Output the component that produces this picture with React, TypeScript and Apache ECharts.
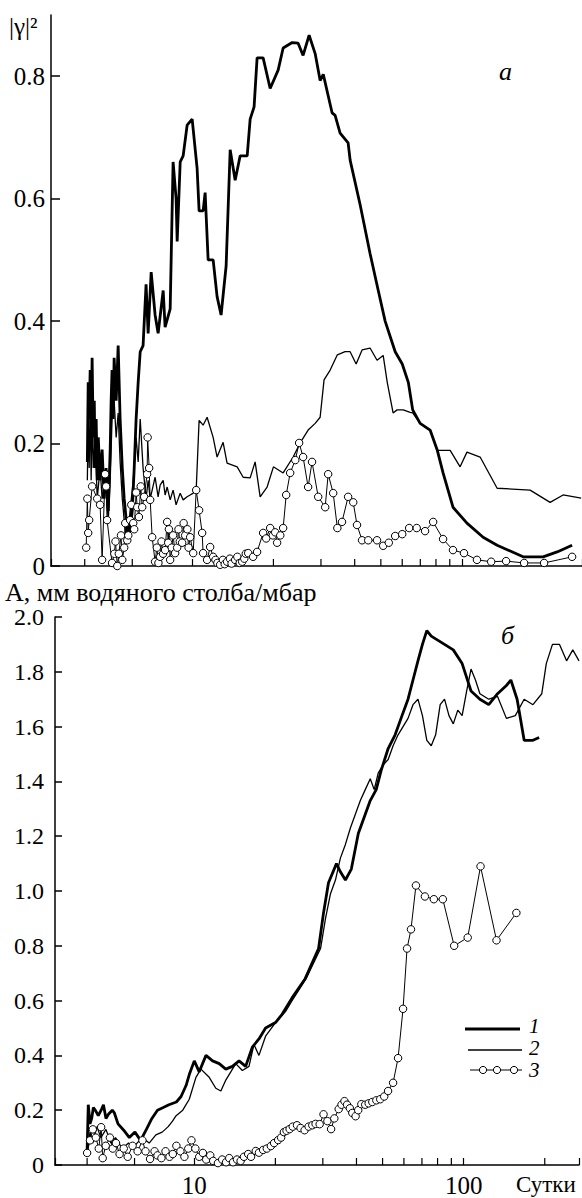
import React, { useEffect, useRef } from 'react';
import * as echarts from 'echarts';

// ---- Panel a: squared coherence |γ|² vs period (days) ----
const TOP_1: [number, number][] = [
  [4.09,0.17],[4.12,0.30],[4.155,0.24],[4.19,0.32],[4.225,0.22],[4.26,0.34],[4.30,0.21],[4.34,0.27],[4.37,0.16],[4.41,0.24],
  [4.45,0.14],[4.49,0.21],[4.56,0.14],[4.64,0.19],[4.72,0.11],[4.80,0.16],[4.89,0.09],[4.97,0.19],[5.01,0.27],[5.05,0.32],
  [5.10,0.24],[5.14,0.34],[5.23,0.27],[5.32,0.36],[5.41,0.24],[5.51,0.16],[5.60,0.11],[5.70,0.075],[5.80,0.042],[5.89,0.059],
  [6.00,0.09],[6.10,0.16],[6.20,0.24],[6.31,0.30],[6.42,0.35],[6.58,0.36],[6.75,0.46],[6.87,0.38],[7.05,0.48],[7.29,0.41],
  [7.48,0.38],[7.81,0.45],[7.94,0.39],[8.29,0.42],[8.50,0.66],[8.72,0.60],[8.80,0.53],[9.03,0.66],[9.26,0.67],[9.58,0.72],
  [10.0,0.73],[10.43,0.65],[10.61,0.58],[10.98,0.58],[11.17,0.61],[11.46,0.50],[11.96,0.50],[12.37,0.44],[12.80,0.41],[13.36,0.49],
  [13.83,0.68],[14.43,0.63],[15.06,0.67],[15.99,0.67],[16.40,0.73],[16.96,0.75],[17.40,0.83],[18.32,0.83],[19.45,0.78],[20.82,0.81],
  [21.73,0.846],[23.47,0.855],[24.69,0.854],[25.76,0.834],[27.12,0.867],[28.55,0.837],[29.79,0.793],[30.6,0.803],[33.0,0.74],[33.85,0.736],
  [35.32,0.707],[37.82,0.691],[38.47,0.663],[41.9,0.59],[45.62,0.51],[48.9,0.45],[51.86,0.40],[56.5,0.35],[60.0,0.33],[63.2,0.30],
  [65.6,0.255],[69.9,0.233],[76.1,0.222],[80.8,0.19],[85.0,0.152],[92.5,0.096],[104.2,0.07],[119.6,0.047],[134.8,0.034],[168.2,0.015],
  [199.5,0.015],[224.9,0.023],[255.5,0.034]
];
const TOP_2: [number, number][] = [
  [4.09,0.14],[4.12,0.24],[4.155,0.16],[4.19,0.27],[4.225,0.14],[4.26,0.25],[4.30,0.16],[4.37,0.21],[4.45,0.11],[4.56,0.16],
  [4.64,0.11],[4.76,0.14],[4.89,0.075],[4.97,0.14],[5.05,0.24],[5.14,0.27],[5.23,0.21],[5.32,0.25],[5.41,0.17],[5.51,0.11],
  [5.60,0.075],[5.70,0.042],[5.80,0.059],[5.89,0.09],[6.05,0.14],[6.20,0.21],[6.31,0.17],[6.42,0.24],[6.58,0.16],[6.75,0.11],
  [6.87,0.14],[6.99,0.11],[7.11,0.124],[7.29,0.145],[7.48,0.113],[7.61,0.132],[7.81,0.14],[7.94,0.116],[8.08,0.129],[8.29,0.108],
  [8.50,0.124],[8.72,0.10],[9.03,0.119],[9.26,0.108],[9.58,0.113],[9.83,0.116],[10.09,0.119],[10.35,0.124],[10.61,0.238],[10.98,0.23],
  [11.36,0.243],[11.96,0.21],[12.37,0.178],[13.02,0.202],[13.47,0.168],[14.68,0.162],[15.45,0.145],[16.40,0.144],[17.11,0.17],[17.86,0.113],
  [18.95,0.129],[20.0,0.162],[21.73,0.152],[23.67,0.178],[25.12,0.201],[26.89,0.222],[28.55,0.233],[29.79,0.243],[30.8,0.304],[32.45,0.32],
  [34.5,0.345],[36.86,0.35],[38.47,0.35],[40.5,0.33],[42.6,0.353],[45.6,0.356],[48.4,0.336],[51.0,0.344],[52.8,0.30],[55.5,0.25],
  [57.4,0.255],[60.5,0.255],[64.2,0.251],[65.6,0.25],[69.9,0.233],[76.1,0.222],[80.8,0.189],[90.3,0.189],[98.3,0.162],[104.2,0.186],
  [116.6,0.178],[134.8,0.127],[178.6,0.124],[211.8,0.104],[236.6,0.116],[276,0.111]
];
const TOP_3: [number, number][] = [
  [4.05,0.03],[4.09,0.11],[4.12,0.054],[4.155,0.075],[4.26,0.13],[4.45,0.11],[4.56,0.10],[4.64,0.01],[4.76,0.15],[4.80,0.13],
  [4.84,0.075],[5.05,0.005],[5.15,0.02],[5.2,0.04],[5.28,0.0],[5.35,0.02],[5.45,0.05],[5.51,0.01],[5.6,0.03],[5.65,0.07],
  [5.75,0.042],[5.8,0.05],[5.89,0.075],[5.95,0.10],[6.05,0.07],[6.1,0.06],[6.2,0.12],[6.26,0.096],[6.35,0.08],[6.45,0.13],
  [6.53,0.096],[6.64,0.113],[6.81,0.15],[6.84,0.21],[6.93,0.16],[6.99,0.108],[7.11,0.047],[7.29,0.007],[7.4,0.03],[7.5,0.005],
  [7.61,0.015],[7.7,0.04],[7.8,0.02],[7.94,0.026],[8.08,0.072],[8.15,0.038],[8.2,0.06],[8.29,0.01],[8.4,0.03],[8.5,0.05],
  [8.65,0.021],[8.8,0.03],[8.9,0.06],[9.0,0.04],[9.18,0.038],[9.3,0.07],[9.42,0.05],[9.6,0.06],[9.7,0.03],[9.83,0.047],
  [10.09,0.021],[10.35,0.124],[10.61,0.091],[10.89,0.054],[10.98,0.021],[11.36,0.01],[11.66,0.031],[11.96,0.015],[12.2,0.01],[12.4,0.005],
  [12.70,0.002],[13.0,0.01],[13.2,0.003],[13.47,0.007],[13.8,0.012],[14.0,0.004],[14.43,0.01],[14.7,0.015],[15.0,0.005],[15.32,0.007],
  [15.6,0.012],[15.8,0.02],[16.13,0.021],[16.82,0.015],[17.40,0.023],[18.32,0.054],[18.8,0.045],[19.45,0.062],[19.9,0.05],[20.3,0.055],
  [20.64,0.038],[21.2,0.05],[21.73,0.062],[22.3,0.116],[23.07,0.152],[24.1,0.173],[24.9,0.201],[25.76,0.178],[26.89,0.129],[27.8,0.17],
  [29.3,0.113],[31.1,0.096],[31.9,0.15],[33.3,0.119],[34.5,0.062],[35.9,0.072],[37.82,0.113],[39.5,0.104],[40.8,0.067],[42.6,0.042],
  [44.9,0.042],[48.4,0.042],[51.0,0.033],[53.5,0.038],[56.5,0.049],[60.0,0.052],[63.66,0.062],[67.9,0.062],[72.9,0.057],[78.1,0.072],
  [85.0,0.044],[92.5,0.026],[101.6,0.021],[113.5,0.01],[128.1,0.007],[145.5,0.008],[169.7,0.005],[201.2,0.005],[255.5,0.015]
];

// ---- Panel б: amplitude A (mm water / mbar) vs period (days) ----
const BOT_1: [number, number][] = [
  [4.0,0.05],[4.04,0.22],[4.1,0.15],[4.16,0.17],[4.22,0.21],[4.29,0.20],[4.4,0.18],[4.51,0.20],[4.6,0.22],[4.7,0.17],
  [4.80,0.185],[4.96,0.20],[5.05,0.19],[5.21,0.15],[5.47,0.127],[5.74,0.10],[6.02,0.12],[6.32,0.09],[6.64,0.13],[6.96,0.17],
  [7.30,0.20],[7.67,0.21],[8.05,0.22],[8.58,0.23],[8.93,0.25],[9.32,0.29],[9.58,0.33],[10.0,0.38],[10.43,0.34],[11.05,0.40],
  [11.69,0.38],[12.37,0.37],[13.09,0.35],[13.85,0.36],[14.66,0.38],[15.51,0.36],[16.42,0.43],[17.38,0.46],[18.39,0.50],[20.02,0.52],
  [21.18,0.55],[23.06,0.61],[25.8,0.68],[28.93,0.79],[30.18,0.92],[31.49,1.03],[33.71,1.10],[34.86,1.07],[36.39,1.04],[38.28,1.08],
  [40.63,1.21],[43.12,1.28],[45.0,1.33],[47.35,1.37],[49.4,1.44],[52.44,1.52],[55.66,1.57],[59.04,1.64],[62.15,1.70],[64.84,1.77],
  [67.65,1.84],[70.3,1.90],[72.97,1.95],[75.8,1.93],[78.7,1.92],[84.9,1.90],[91.5,1.88],[98.7,1.83],[106.5,1.73],[114.9,1.70],
  [123.9,1.68],[133.6,1.72],[144.1,1.75],[149.7,1.77],[157.9,1.70],[167.7,1.55],[180.8,1.55],[190.6,1.56]
];
const BOT_2: [number, number][] = [
  [4.0,0.04],[4.1,0.12],[4.2,0.08],[4.35,0.14],[4.5,0.10],[4.7,0.13],[4.9,0.08],[5.1,0.10],[5.4,0.06],[5.7,0.08],
  [6.0,0.07],[6.4,0.10],[6.8,0.08],[7.2,0.11],[7.6,0.12],[8.0,0.14],[8.3,0.16],[8.56,0.18],[9.06,0.20],[9.58,0.24],
  [10.14,0.32],[10.58,0.35],[11.36,0.32],[12.02,0.28],[12.55,0.27],[13.09,0.31],[13.66,0.34],[14.25,0.37],[15.08,0.345],[15.96,0.36],
  [16.65,0.44],[17.38,0.40],[18.39,0.47],[20.02,0.52],[21.80,0.56],[23.06,0.60],[26.0,0.68],[29.42,0.79],[30.70,0.90],[32.03,0.99],
  [33.42,1.04],[34.86,1.12],[36.39,1.17],[37.97,1.23],[39.62,1.28],[41.34,1.33],[43.12,1.37],[45.0,1.41],[46.55,1.37],[48.16,1.43],
  [50.25,1.46],[52.44,1.48],[54.70,1.53],[57.08,1.57],[59.56,1.60],[62.15,1.63],[64.84,1.68],[67.65,1.70],[70.3,1.64],[72.97,1.55],
  [75.8,1.53],[78.7,1.57],[81.8,1.68],[84.9,1.70],[88.2,1.64],[91.5,1.61],[95.1,1.66],[98.7,1.64],[102.6,1.73],[106.5,1.81],
  [110.6,1.77],[114.9,1.72],[123.9,1.70],[133.6,1.71],[144.1,1.63],[155.5,1.64],[167.7,1.70],[180.8,1.68],[195.0,1.72],[202.6,1.83],
  [213.6,1.90],[226.9,1.90],[241.0,1.84],[254.2,1.88],[268,1.84]
];
const BOT_3: [number, number][] = [
  [4.0,0.044],[4.10,0.09],[4.20,0.13],[4.31,0.10],[4.42,0.06],[4.51,0.138],[4.57,0.025],[4.69,0.07],[4.86,0.10],[4.98,0.06],
  [5.12,0.08],[5.28,0.04],[5.47,0.06],[5.66,0.03],[5.90,0.07],[6.16,0.05],[6.42,0.09],[6.59,0.05],[6.85,0.022],[7.12,0.05],
  [7.30,0.035],[7.55,0.025],[7.82,0.05],[8.09,0.03],[8.32,0.04],[8.58,0.07],[8.88,0.05],[9.19,0.03],[9.50,0.06],[9.76,0.09],
  [10.09,0.06],[10.43,0.03],[10.76,0.044],[11.07,0.02],[11.46,0.035],[11.75,0.015],[12.24,0.007],[12.69,0.02],[13.12,0.01],[13.48,0.025],
  [13.93,0.01],[14.41,0.02],[14.86,0.015],[15.29,0.03],[15.85,0.04],[16.24,0.03],[16.91,0.051],[17.38,0.045],[18.01,0.055],[18.59,0.06],
  [19.24,0.069],[19.78,0.08],[20.48,0.091],[21.0,0.10],[21.51,0.12],[22.0,0.125],[22.59,0.131],[23.2,0.14],[24.06,0.145],[24.8,0.135],
  [25.67,0.127],[26.57,0.14],[27.42,0.145],[28.2,0.15],[29.2,0.149],[30.18,0.185],[31.2,0.16],[32.2,0.131],[33.1,0.17],[34.36,0.204],
  [35.2,0.22],[36.1,0.233],[36.9,0.22],[37.8,0.207],[38.6,0.19],[39.7,0.178],[40.6,0.20],[41.7,0.222],[43.1,0.22],[44.4,0.225],
  [45.8,0.23],[47.4,0.236],[49.0,0.24],[50.7,0.25],[52.4,0.27],[54.7,0.30],[57.08,0.39],[59.56,0.57],[61.63,0.79],[63.74,0.86],
  [66.5,1.02],[71.79,0.98],[77.5,0.97],[83.67,0.97],[92.2,0.80],[103.5,0.83],[115.5,1.09],[132.4,0.82],[156.9,0.92]
];

const X_MINOR_TICKS = [4, 6, 20, 30, 40, 50, 60, 70, 80, 90, 200];
const X_LABELS = [10, 100];
const TOP_Y_TICKS = [0, 0.2, 0.4, 0.6, 0.8];
const BOT_Y_TICKS = [0, 0.2, 0.4, 0.6, 0.8, 1.0, 1.2, 1.4, 1.6, 1.8, 2.0];
const LEGEND_LABELS = ['1', '2', '3'];

const FONT = 'Liberation Serif, Times New Roman, Times, serif';

export default function App() {
  const ref = useRef<HTMLDivElement>(null);

  useEffect(() => {
    const chart = echarts.init(ref.current!, null, { renderer: 'svg' });

    const tickSeries = (idx: number) => ({
      type: 'custom',
      xAxisIndex: idx,
      yAxisIndex: idx,
      silent: true,
      clip: false,
      z: 1,
      data: X_MINOR_TICKS.map((v) => [v, 0]),
      renderItem: (_p: any, api: any) => {
        const pt = api.coord([api.value(0), 0]);
        return {
          type: 'line',
          shape: { x1: pt[0], y1: pt[1], x2: pt[0], y2: pt[1] - 7 },
          style: { stroke: '#000', lineWidth: 1.2 },
        };
      },
    });

    const lineSeries = (idx: number, data: [number, number][], width: number) => ({
      type: 'line',
      xAxisIndex: idx,
      yAxisIndex: idx,
      data,
      symbol: 'none',
      showSymbol: false,
      lineStyle: { color: '#000', width },
      z: 3,
    });

    const circleSeries = (idx: number, data: [number, number][]) => ({
      type: 'line',
      xAxisIndex: idx,
      yAxisIndex: idx,
      data,
      symbol: 'circle',
      symbolSize: 7.5,
      showSymbol: true,
      showAllSymbol: true,
      itemStyle: { color: '#fff', borderColor: '#000', borderWidth: 1 },
      lineStyle: { color: '#000', width: 1 },
      z: 4,
    });

    const xAxisBase = {
      type: 'log',
      logBase: 10,
      axisLine: { show: true, onZero: false, lineStyle: { color: '#000', width: 1.5 } },
      axisTick: { show: true, inside: true, length: 7, lineStyle: { color: '#000', width: 1.2 } },
      splitLine: { show: false },
    };

    const yAxisBase = {
      type: 'value',
      axisLine: { show: true, lineStyle: { color: '#000', width: 1.5 } },
      splitLine: { show: false },
    };

    const legendY = [1029, 1050, 1070];
    const legendTextY = [1026, 1048, 1070];

    chart.setOption({
      animation: false,
      backgroundColor: '#fff',
      grid: [
        { left: 51, top: 15, width: 531, height: 551 },
        { left: 55, top: 617, width: 527, height: 550 },
      ],
      xAxis: [
        {
          ...xAxisBase,
          gridIndex: 0,
          min: 3.0,
          max: 278,
          axisLabel: { show: false },
        },
        {
          ...xAxisBase,
          gridIndex: 1,
          min: 3.04,
          max: 268,
          axisLabel: {
            show: true,
            color: '#000',
            fontFamily: FONT,
            fontSize: 25,
            margin: 8,
            formatter: (v: number) => {
              const hit = X_LABELS.find((l) => Math.abs(v - l) < 0.01);
              return hit !== undefined ? String(hit) : '';
            },
          },
        },
      ],
      yAxis: [
        {
          ...yAxisBase,
          gridIndex: 0,
          min: 0,
          max: 0.9,
          interval: 0.2,
          axisTick: {
            show: true, inside: true, length: 9, customValues: TOP_Y_TICKS,
            lineStyle: { color: '#000', width: 1.5 },
          },
          axisLabel: {
            color: '#000', fontFamily: FONT, fontSize: 25, margin: 6, lineHeight: 18,
            customValues: TOP_Y_TICKS,
            formatter: (v: number) => (v > 0.85 ? '' : v === 0 ? '0' : String(Math.round(v * 10) / 10)),
          },
        },
        {
          ...yAxisBase,
          gridIndex: 1,
          min: 0,
          max: 2.0,
          interval: 0.2,
          axisTick: {
            show: true, inside: true, length: 7, customValues: BOT_Y_TICKS,
            lineStyle: { color: '#000', width: 1.5 },
          },
          axisLabel: {
            color: '#000', fontFamily: FONT, fontSize: 24, margin: 11, lineHeight: 18,
            customValues: BOT_Y_TICKS,
            formatter: (v: number) => (v === 0 ? '0' : v.toFixed(1)),
          },
        },
      ],
      series: [
        tickSeries(0),
        tickSeries(1),
        lineSeries(0, TOP_2, 1.3),
        lineSeries(0, TOP_1, 2.8),
        circleSeries(0, TOP_3),
        lineSeries(1, BOT_2, 1.3),
        lineSeries(1, BOT_1, 2.8),
        circleSeries(1, BOT_3),
      ],
      graphic: [
        {
          type: 'text', left: 9, top: 14,
          style: { text: '|γ|²', font: `25px ${FONT}`, fill: '#000' },
        },
        {
          type: 'text', x: 5, y: 592,
          style: {
            text: 'A, мм водяного столба/мбар', font: `26px ${FONT}`, fill: '#000',
            lineHeight: 18, verticalAlign: 'middle', align: 'left',
          },
        },
        {
          type: 'text', left: 499, top: 58,
          style: { text: 'a', font: `italic 26px ${FONT}`, fill: '#000' },
        },
        {
          type: 'text', left: 501, top: 622,
          style: { text: 'б', font: `italic 26px ${FONT}`, fill: '#000' },
        },
        {
          type: 'text', x: 516, y: 1184,
          style: {
            text: 'Сутки', font: `23px ${FONT}`, fill: '#000',
            lineHeight: 20, verticalAlign: 'middle', align: 'left',
          },
        },
        // legend
        { type: 'line', shape: { x1: 465, y1: legendY[0], x2: 520, y2: legendY[0] }, style: { stroke: '#000', lineWidth: 2.8 } },
        { type: 'line', shape: { x1: 468, y1: legendY[1], x2: 522, y2: legendY[1] }, style: { stroke: '#000', lineWidth: 1.3 } },
        { type: 'line', shape: { x1: 470, y1: legendY[2], x2: 522, y2: legendY[2] }, style: { stroke: '#000', lineWidth: 1 } },
        { type: 'circle', shape: { cx: 483, cy: legendY[2], r: 3.6 }, style: { fill: '#fff', stroke: '#000', lineWidth: 1 } },
        { type: 'circle', shape: { cx: 497, cy: legendY[2], r: 3.6 }, style: { fill: '#fff', stroke: '#000', lineWidth: 1 } },
        { type: 'circle', shape: { cx: 514, cy: legendY[2], r: 3.6 }, style: { fill: '#fff', stroke: '#000', lineWidth: 1 } },
        ...LEGEND_LABELS.map((t, i) => ({
          type: 'text', x: 529, y: legendTextY[i],
          style: {
            text: t, font: `italic 21px ${FONT}`, fill: '#000',
            lineHeight: 18, verticalAlign: 'middle', align: 'left',
          },
        })),
      ],
    });

    return () => chart.dispose();
  }, []);

  return (
    <div
      ref={ref}
      style={{ position: 'absolute', left: 0, top: 0, width: 582, height: 1198, background: '#fff' }}
    />
  );
}
